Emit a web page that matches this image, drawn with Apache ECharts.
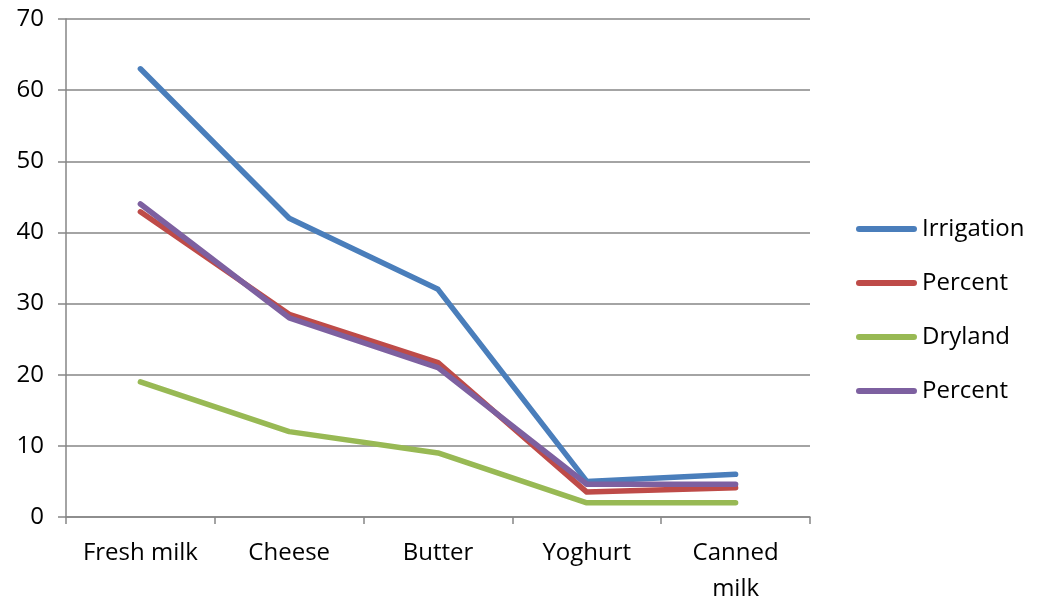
<!DOCTYPE html>
<html>
<head>
<meta charset="utf-8">
<script src="https://cdn.jsdelivr.net/npm/echarts@6/dist/echarts.min.js"></script>
<style>
  html, body { margin: 0; padding: 0; background: #fff; }
  #chart { width: 1039px; height: 607px; }
</style>
</head>
<body>
<div id="chart"></div>
<script>
// Dairy products: irrigation vs dryland farms, counts and percentages
const categories = ['Fresh milk', 'Cheese', 'Butter', 'Yoghurt', 'Canned\nmilk'];
const irrigation = [63, 42, 32, 5, 6];
const irrigationPercent = [42.9, 28.5, 21.7, 3.5, 4.1];
const dryland = [19, 12, 9, 2, 2];
const drylandPercent = [44, 28, 21, 4.6, 4.6];
const yTicks = { min: 0, max: 70, interval: 10 };

const font = '"Open Sans", "Noto Sans", sans-serif';
const axisGrey = '#868686';
// rounded bar used as the legend key for each line
const keyIcon = 'path://M3,0 H57 A3,3 0 0 1 57,6 H3 A3,3 0 0 1 3,0 Z';

function lineSeries(name, data, color) {
  return {
    name: name,
    type: 'line',
    data: data,
    symbol: 'none',
    lineStyle: { color: color, width: 5.5, cap: 'round', join: 'round' },
    itemStyle: { color: color },
    emphasis: { disabled: true }
  };
}

const chart = echarts.init(document.getElementById('chart'));
chart.setOption({
  animation: false,
  backgroundColor: '#fff',
  grid: { left: 66, right: 229, top: 19, bottom: 89 },
  legend: {
    orient: 'vertical',
    left: 851,
    top: 209,
    icon: keyIcon,
    symbolKeepAspect: false,
    itemWidth: 61,
    itemHeight: 6,
    itemGap: 24,
    textStyle: { fontFamily: font, fontSize: 24, lineHeight: 30, color: '#000' },
    data: ['Irrigation', 'Percent', 'Dryland', 'Percent ']
  },
  xAxis: {
    type: 'category',
    data: categories,
    boundaryGap: true,
    axisLine: { lineStyle: { color: axisGrey, width: 1.5 } },
    axisTick: { show: true, length: 7, inside: false, lineStyle: { color: axisGrey, width: 1.5 } },
    axisLabel: { fontFamily: font, fontSize: 24, color: '#000', margin: 18, lineHeight: 36, interval: 0 }
  },
  yAxis: {
    type: 'value',
    min: yTicks.min,
    max: yTicks.max,
    interval: yTicks.interval,
    axisLine: { show: true, lineStyle: { color: axisGrey, width: 1.5 } },
    axisTick: { show: true, length: 8, lineStyle: { color: axisGrey, width: 1.5 } },
    splitLine: { lineStyle: { color: axisGrey, width: 1.5 } },
    axisLabel: { fontFamily: font, fontSize: 24, color: '#000', margin: 22 }
  },
  series: [
    lineSeries('Irrigation', irrigation, '#4A7EBB'),
    lineSeries('Percent', irrigationPercent, '#BE4B48'),
    lineSeries('Dryland', dryland, '#98B954'),
    lineSeries('Percent ', drylandPercent, '#7D60A0')
  ]
});
</script>
</body>
</html>
